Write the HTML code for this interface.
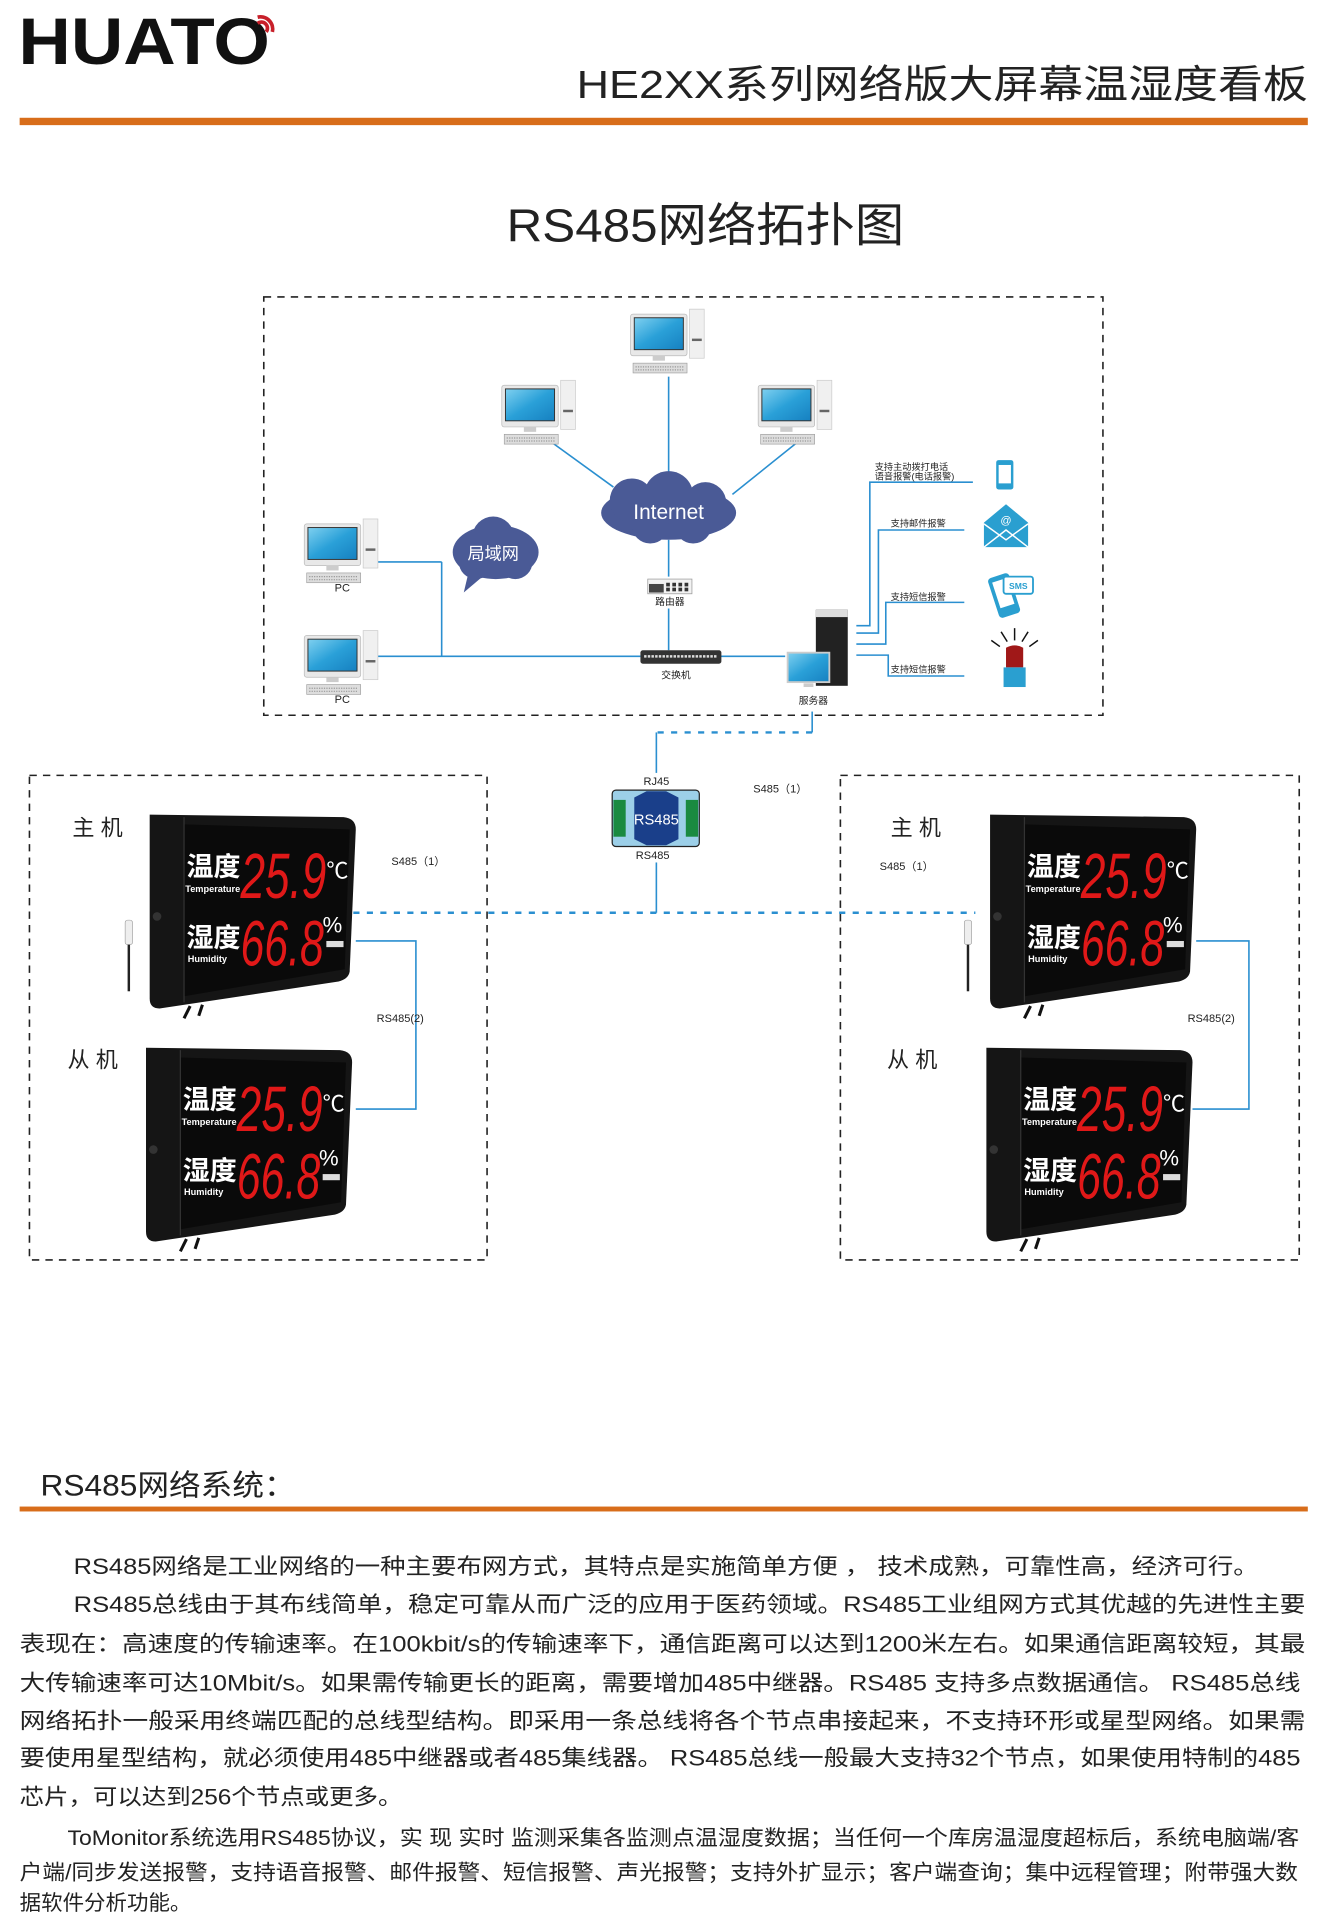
<!DOCTYPE html>
<html><head><meta charset="utf-8"><style>
html,body{margin:0;padding:0;background:#fff}
svg{display:block}
text{font-family:"Liberation Sans","Noto Sans CJK SC",sans-serif}
</style></head><body>
<svg width="1325" height="1920" viewBox="0 0 1080 1565" xmlns="http://www.w3.org/2000/svg">
<defs>
<linearGradient id="scr" x1="0" y1="0" x2="1" y2="1"><stop offset="0" stop-color="#7fd0f0"/><stop offset="0.5" stop-color="#2aa0d8"/><stop offset="1" stop-color="#1680c0"/></linearGradient>
<g id="pc">
<rect x="-2" y="-2" width="46" height="34" rx="2" fill="#e8e8e8" stroke="#bbb" stroke-width="0.6"/>
<rect x="1" y="1" width="40" height="26" fill="url(#scr)" stroke="#333" stroke-width="0.8"/>
<rect x="16" y="32" width="10" height="4" fill="#ccc"/>
<rect x="0" y="38" width="44" height="8" fill="#ddd" stroke="#999" stroke-width="0.5"/>
<line x1="2" y1="41" x2="42" y2="41" stroke="#999" stroke-width="1" stroke-dasharray="1 1"/>
<line x1="2" y1="43.5" x2="42" y2="43.5" stroke="#999" stroke-width="1" stroke-dasharray="1 1"/>
<rect x="46" y="-6" width="12" height="40" fill="#f0f0f0" stroke="#ccc" stroke-width="0.6"/>
<rect x="48" y="18" width="8" height="2" fill="#666"/>
</g>
</defs>

<!-- header -->
<text x="15" y="52" font-size="54" font-weight="bold" fill="#111" textLength="205" lengthAdjust="spacingAndGlyphs">HUATO</text>
<path d="M210 14 a10 10 0 0 1 12 12" fill="none" stroke="#c8202a" stroke-width="3"/>
<path d="M210 19 a5 5 0 0 1 7 7" fill="none" stroke="#c8202a" stroke-width="3"/>
<text x="1066" y="80" font-size="32" fill="#222" text-anchor="end" textLength="596" lengthAdjust="spacingAndGlyphs">HE2XX系列网络版大屏幕温湿度看板</text>
<rect x="16" y="96" width="1050" height="6" fill="#d86d1a"/>
<text x="575" y="197" font-size="38" fill="#222" text-anchor="middle" textLength="324" lengthAdjust="spacingAndGlyphs">RS485网络拓扑图</text>

<!-- main dashed box -->
<rect x="215" y="242" width="684" height="341" fill="none" stroke="#222" stroke-width="1.3" stroke-dasharray="6 5"/>

<!-- blue lines -->
<g stroke="#2a8fd0" stroke-width="1.3" fill="none">
<line x1="545" y1="307" x2="545" y2="395"/>
<line x1="442" y1="355" x2="500" y2="397"/>
<line x1="653" y1="358" x2="597" y2="403"/>
<line x1="545" y1="440" x2="545" y2="470"/>
<line x1="545" y1="496" x2="545" y2="530"/>
<line x1="305" y1="535" x2="522" y2="535"/>
<line x1="587" y1="535" x2="640" y2="535"/>
<line x1="305" y1="458" x2="360" y2="458"/>
<line x1="360" y1="458" x2="360" y2="535"/>
<polyline points="698,510 709,510 709,393 793,393"/>
<polyline points="698,516 716,516 716,432 786,432"/>
<polyline points="698,525 722,525 722,491 786,491"/>
<polyline points="698,534 724,534 724,551 786,551"/>
<line x1="662" y1="580" x2="662" y2="597"/>
<line x1="535" y1="597" x2="535" y2="630"/>
<line x1="535" y1="703" x2="535" y2="744"/>
<polyline points="290,767 339,767 339,904 290,904"/>
<polyline points="975,767 1018,767 1018,904 972,904"/>
</g>
<g stroke="#2a8fd0" stroke-width="2" fill="none" stroke-dasharray="5 6">
<line x1="662" y1="597" x2="535" y2="597"/>
<line x1="288" y1="744" x2="795" y2="744"/>
</g>

<!-- PCs -->
<use href="#pc" x="516" y="258"/>
<use href="#pc" x="411" y="316"/>
<use href="#pc" x="620" y="316"/>
<use href="#pc" x="250" y="429"/>
<use href="#pc" x="250" y="520"/>
<text x="279" y="482" font-size="9" fill="#222" text-anchor="middle">PC</text>
<text x="279" y="573" font-size="9" fill="#222" text-anchor="middle">PC</text>

<!-- internet cloud -->
<g fill="#4a5a96">
<ellipse cx="545" cy="418" rx="55" ry="22"/>
<circle cx="545" cy="404" r="20"/>
<circle cx="515" cy="408" r="18"/>
<circle cx="575" cy="410" r="17"/>
<circle cx="530" cy="428" r="15"/>
<circle cx="565" cy="428" r="15"/>
</g>
<text x="545" y="423" font-size="17" fill="#fff" text-anchor="middle">Internet</text>

<!-- LAN bubble -->
<g fill="#4a5a96">
<ellipse cx="404" cy="450" rx="35" ry="22"/>
<circle cx="402" cy="438" r="17"/>
<circle cx="388" cy="458" r="14"/>
<circle cx="420" cy="458" r="14"/>
<path d="M383 462 L378 483 L398 466 Z"/>
</g>
<text x="402" y="456" font-size="14" fill="#fff" text-anchor="middle">局域网</text>

<!-- router -->
<rect x="528" y="472" width="36" height="12" fill="#f2f2f2" stroke="#999" stroke-width="0.6"/>
<rect x="529" y="476" width="12" height="7" fill="#444"/>
<g fill="#333"><rect x="543" y="475" width="3" height="3"/><rect x="548" y="475" width="3" height="3"/><rect x="553" y="475" width="3" height="3"/><rect x="558" y="475" width="3" height="3"/><rect x="543" y="479" width="3" height="3"/><rect x="548" y="479" width="3" height="3"/><rect x="553" y="479" width="3" height="3"/><rect x="558" y="479" width="3" height="3"/></g>
<text x="546" y="493" font-size="8" fill="#222" text-anchor="middle">路由器</text>
<!-- switch -->
<rect x="522" y="530" width="66" height="11" rx="2" fill="#333"/>
<line x1="525" y1="535" x2="585" y2="535" stroke="#ddd" stroke-width="2" stroke-dasharray="2 1"/>
<text x="551" y="553" font-size="8" fill="#222" text-anchor="middle">交换机</text>

<!-- server -->
<rect x="665" y="497" width="26" height="62" fill="#222"/>
<rect x="665" y="497" width="26" height="6" fill="#ddd"/>
<rect x="642" y="532" width="34" height="24" fill="url(#scr)" stroke="#ccc" stroke-width="1.5"/>
<rect x="655" y="557" width="8" height="3" fill="#ccc"/>
<text x="663" y="574" font-size="8" fill="#222" text-anchor="middle">服务器</text>

<!-- alarm labels -->
<g font-size="7.5" fill="#222">
<text x="713" y="383">支持主动拨打电话</text>
<text x="713" y="391">语音报警(电话报警)</text>
<text x="726" y="429">支持邮件报警</text>
<text x="726" y="489">支持短信报警</text>
<text x="726" y="548">支持短信报警</text>
</g>
<!-- icons -->
<rect x="812" y="375" width="14" height="24" rx="2" fill="#2a9fd0"/>
<rect x="814" y="379" width="10" height="15" fill="#fff"/>
<path d="M802 426 L820 411 L838 426 L838 446 L802 446 Z" fill="#2a9fd0"/>
<path d="M802 427 L820 440 L838 427 M802 446 L820 432 L838 446" fill="none" stroke="#fff" stroke-width="1.2"/>
<text x="820" y="427" font-size="9" fill="#fff" text-anchor="middle">@</text>
<g transform="rotate(-18 820 487)"><rect x="810" y="468" width="18" height="34" rx="3" fill="#2a9fd0"/><rect x="813" y="472" width="12" height="22" fill="#fff"/></g>
<rect x="818" y="470" width="24" height="14" rx="2" fill="#fff" stroke="#2a9fd0" stroke-width="1.5"/>
<text x="830" y="480" font-size="7" fill="#2a9fd0" text-anchor="middle" font-weight="bold">SMS</text>
<path d="M820 528 Q827 524 834 528 L834 544 L820 544 Z" fill="#a01818"/>
<rect x="818" y="544" width="18" height="16" fill="#2a9fd0"/>
<g stroke="#111" stroke-width="1.2"><line x1="827" y1="512" x2="827" y2="522"/><line x1="816" y1="515" x2="821" y2="523"/><line x1="838" y1="515" x2="833" y2="523"/><line x1="808" y1="522" x2="815" y2="527"/><line x1="846" y1="522" x2="839" y2="527"/></g>

<!-- RS485 module -->
<text x="535" y="640" font-size="9" fill="#222" text-anchor="middle">RJ45</text>
<rect x="499" y="644" width="71" height="46" rx="3" fill="#9ccfe8" stroke="#222" stroke-width="1"/>
<rect x="500" y="652" width="10" height="30" fill="#1a8a40"/>
<rect x="559" y="652" width="10" height="30" fill="#1a8a40"/>
<path d="M517 650 L527 645 L543 645 L553 650 L553 684 L543 689 L527 689 L517 684 Z" fill="#1a3f8a"/>
<text x="535" y="672" font-size="12" fill="#fff" text-anchor="middle">RS485</text>
<text x="532" y="700" font-size="9" fill="#222" text-anchor="middle">RS485</text>

<g font-size="9" fill="#222">
<text x="614" y="646">S485（1）</text>
<text x="319" y="705">S485（1）</text>
<text x="717" y="709">S485（1）</text>
<text x="307" y="833">RS485(2)</text>
<text x="968" y="833">RS485(2)</text>
</g>

<!-- side boxes -->
<rect x="24" y="632" width="373" height="395" fill="none" stroke="#222" stroke-width="1.3" stroke-dasharray="6 5"/>
<rect x="685" y="632" width="374" height="395" fill="none" stroke="#222" stroke-width="1.3" stroke-dasharray="6 5"/>
<g font-size="18" fill="#222">
<text x="59" y="681">主 机</text>
<text x="55" y="870">从 机</text>
<text x="726" y="681">主 机</text>
<text x="723" y="870">从 机</text>
</g>

<!-- probes -->
<rect x="102" y="750" width="6" height="20" rx="2" fill="#eee" stroke="#999" stroke-width="0.5"/>
<line x1="105" y1="770" x2="105" y2="808" stroke="#222" stroke-width="2"/>
<rect x="786" y="750" width="6" height="20" rx="2" fill="#eee" stroke="#999" stroke-width="0.5"/>
<line x1="789" y1="770" x2="789" y2="808" stroke="#222" stroke-width="2"/>

<!-- displays -->
<g transform="translate(120,662)">
<path d="M2 2 L160 4 Q170 5 170 14 L165 130 Q164 136 156 138 L10 160 Q2 160 2 152 Z" fill="#151515"/>
<path d="M30 10 L165 14 L161 128 L30 150 Z" fill="#0a0a0a"/>
<line x1="30" y1="4" x2="30" y2="155" stroke="#333" stroke-width="1"/>
<circle cx="8" cy="85" r="3.5" fill="#333"/>
<line x1="35" y1="158" x2="30" y2="168" stroke="#111" stroke-width="2.5"/><line x1="45" y1="157" x2="42" y2="166" stroke="#111" stroke-width="2.5"/>
<text x="32" y="52" font-size="22" font-weight="bold" fill="#fff">温度</text>
<text x="31" y="65" font-size="7.5" font-weight="bold" fill="#fff">Temperature</text>
<text x="76" y="70" font-size="52" font-style="italic" fill="#e01818" textLength="70" lengthAdjust="spacingAndGlyphs">25.9</text>
<text x="146" y="54" font-size="18" fill="#fff">℃</text>
<text x="32" y="110" font-size="22" font-weight="bold" fill="#fff">湿度</text>
<text x="33" y="122" font-size="7.5" font-weight="bold" fill="#fff">Humidity</text>
<text x="76" y="125" font-size="52" font-style="italic" fill="#e01818" textLength="68" lengthAdjust="spacingAndGlyphs">66.8</text>
<text x="143" y="98" font-size="18" fill="#fff">%</text>
<rect x="146" y="105" width="14" height="5" fill="#ddd"/>
</g>
<g transform="translate(117,852)">
<path d="M2 2 L160 4 Q170 5 170 14 L165 130 Q164 136 156 138 L10 160 Q2 160 2 152 Z" fill="#151515"/>
<path d="M30 10 L165 14 L161 128 L30 150 Z" fill="#0a0a0a"/>
<line x1="30" y1="4" x2="30" y2="155" stroke="#333" stroke-width="1"/>
<circle cx="8" cy="85" r="3.5" fill="#333"/>
<line x1="35" y1="158" x2="30" y2="168" stroke="#111" stroke-width="2.5"/><line x1="45" y1="157" x2="42" y2="166" stroke="#111" stroke-width="2.5"/>
<text x="32" y="52" font-size="22" font-weight="bold" fill="#fff">温度</text>
<text x="31" y="65" font-size="7.5" font-weight="bold" fill="#fff">Temperature</text>
<text x="76" y="70" font-size="52" font-style="italic" fill="#e01818" textLength="70" lengthAdjust="spacingAndGlyphs">25.9</text>
<text x="146" y="54" font-size="18" fill="#fff">℃</text>
<text x="32" y="110" font-size="22" font-weight="bold" fill="#fff">湿度</text>
<text x="33" y="122" font-size="7.5" font-weight="bold" fill="#fff">Humidity</text>
<text x="76" y="125" font-size="52" font-style="italic" fill="#e01818" textLength="68" lengthAdjust="spacingAndGlyphs">66.8</text>
<text x="143" y="98" font-size="18" fill="#fff">%</text>
<rect x="146" y="105" width="14" height="5" fill="#ddd"/>
</g>
<g transform="translate(805,662)">
<path d="M2 2 L160 4 Q170 5 170 14 L165 130 Q164 136 156 138 L10 160 Q2 160 2 152 Z" fill="#151515"/>
<path d="M30 10 L165 14 L161 128 L30 150 Z" fill="#0a0a0a"/>
<line x1="30" y1="4" x2="30" y2="155" stroke="#333" stroke-width="1"/>
<circle cx="8" cy="85" r="3.5" fill="#333"/>
<line x1="35" y1="158" x2="30" y2="168" stroke="#111" stroke-width="2.5"/><line x1="45" y1="157" x2="42" y2="166" stroke="#111" stroke-width="2.5"/>
<text x="32" y="52" font-size="22" font-weight="bold" fill="#fff">温度</text>
<text x="31" y="65" font-size="7.5" font-weight="bold" fill="#fff">Temperature</text>
<text x="76" y="70" font-size="52" font-style="italic" fill="#e01818" textLength="70" lengthAdjust="spacingAndGlyphs">25.9</text>
<text x="146" y="54" font-size="18" fill="#fff">℃</text>
<text x="32" y="110" font-size="22" font-weight="bold" fill="#fff">湿度</text>
<text x="33" y="122" font-size="7.5" font-weight="bold" fill="#fff">Humidity</text>
<text x="76" y="125" font-size="52" font-style="italic" fill="#e01818" textLength="68" lengthAdjust="spacingAndGlyphs">66.8</text>
<text x="143" y="98" font-size="18" fill="#fff">%</text>
<rect x="146" y="105" width="14" height="5" fill="#ddd"/>
</g>
<g transform="translate(802,852)">
<path d="M2 2 L160 4 Q170 5 170 14 L165 130 Q164 136 156 138 L10 160 Q2 160 2 152 Z" fill="#151515"/>
<path d="M30 10 L165 14 L161 128 L30 150 Z" fill="#0a0a0a"/>
<line x1="30" y1="4" x2="30" y2="155" stroke="#333" stroke-width="1"/>
<circle cx="8" cy="85" r="3.5" fill="#333"/>
<line x1="35" y1="158" x2="30" y2="168" stroke="#111" stroke-width="2.5"/><line x1="45" y1="157" x2="42" y2="166" stroke="#111" stroke-width="2.5"/>
<text x="32" y="52" font-size="22" font-weight="bold" fill="#fff">温度</text>
<text x="31" y="65" font-size="7.5" font-weight="bold" fill="#fff">Temperature</text>
<text x="76" y="70" font-size="52" font-style="italic" fill="#e01818" textLength="70" lengthAdjust="spacingAndGlyphs">25.9</text>
<text x="146" y="54" font-size="18" fill="#fff">℃</text>
<text x="32" y="110" font-size="22" font-weight="bold" fill="#fff">湿度</text>
<text x="33" y="122" font-size="7.5" font-weight="bold" fill="#fff">Humidity</text>
<text x="76" y="125" font-size="52" font-style="italic" fill="#e01818" textLength="68" lengthAdjust="spacingAndGlyphs">66.8</text>
<text x="143" y="98" font-size="18" fill="#fff">%</text>
<rect x="146" y="105" width="14" height="5" fill="#ddd"/>
</g>

<!-- section 2 -->
<text x="33" y="1219" font-size="24" fill="#222" textLength="208" lengthAdjust="spacingAndGlyphs">RS485网络系统：</text>
<rect x="16" y="1228" width="1050" height="4" fill="#d86d1a"/>
<g font-size="18" fill="#222">
<text x="60" y="1283" textLength="966" lengthAdjust="spacingAndGlyphs">RS485网络是工业网络的一种主要布网方式，其特点是实施简单方便 ， 技术成熟，可靠性高，经济可行。</text>
<text x="60" y="1314" textLength="1004" lengthAdjust="spacingAndGlyphs">RS485总线由于其布线简单，稳定可靠从而广泛的应用于医药领域。RS485工业组网方式其优越的先进性主要</text>
<text x="16" y="1346" textLength="1048" lengthAdjust="spacingAndGlyphs">表现在：高速度的传输速率。在100kbit/s的传输速率下，通信距离可以达到1200米左右。如果通信距离较短，其最</text>
<text x="16" y="1378" textLength="1044" lengthAdjust="spacingAndGlyphs">大传输速率可达10Mbit/s。如果需传输更长的距离，需要增加485中继器。RS485 支持多点数据通信。 RS485总线</text>
<text x="16" y="1409" textLength="1048" lengthAdjust="spacingAndGlyphs">网络拓扑一般采用终端匹配的总线型结构。即采用一条总线将各个节点串接起来，不支持环形或星型网络。如果需</text>
<text x="16" y="1439" textLength="1044" lengthAdjust="spacingAndGlyphs">要使用星型结构，就必须使用485中继器或者485集线器。 RS485总线一般最大支持32个节点，如果使用特制的485</text>
<text x="16" y="1471" textLength="312" lengthAdjust="spacingAndGlyphs">芯片，可以达到256个节点或更多。</text>
<text x="55" y="1504" font-size="17" textLength="1004" lengthAdjust="spacingAndGlyphs">ToMonitor系统选用RS485协议，实 现 实时 监测采集各监测点温湿度数据；当任何一个库房温湿度超标后，系统电脑端/客</text>
<text x="16" y="1532" font-size="17" textLength="1042" lengthAdjust="spacingAndGlyphs">户端/同步发送报警，支持语音报警、邮件报警、短信报警、声光报警；支持外扩显示；客户端查询；集中远程管理；附带强大数</text>
<text x="16" y="1557" font-size="17" textLength="140" lengthAdjust="spacingAndGlyphs">据软件分析功能。</text>
</g>
</svg>
</body></html>
